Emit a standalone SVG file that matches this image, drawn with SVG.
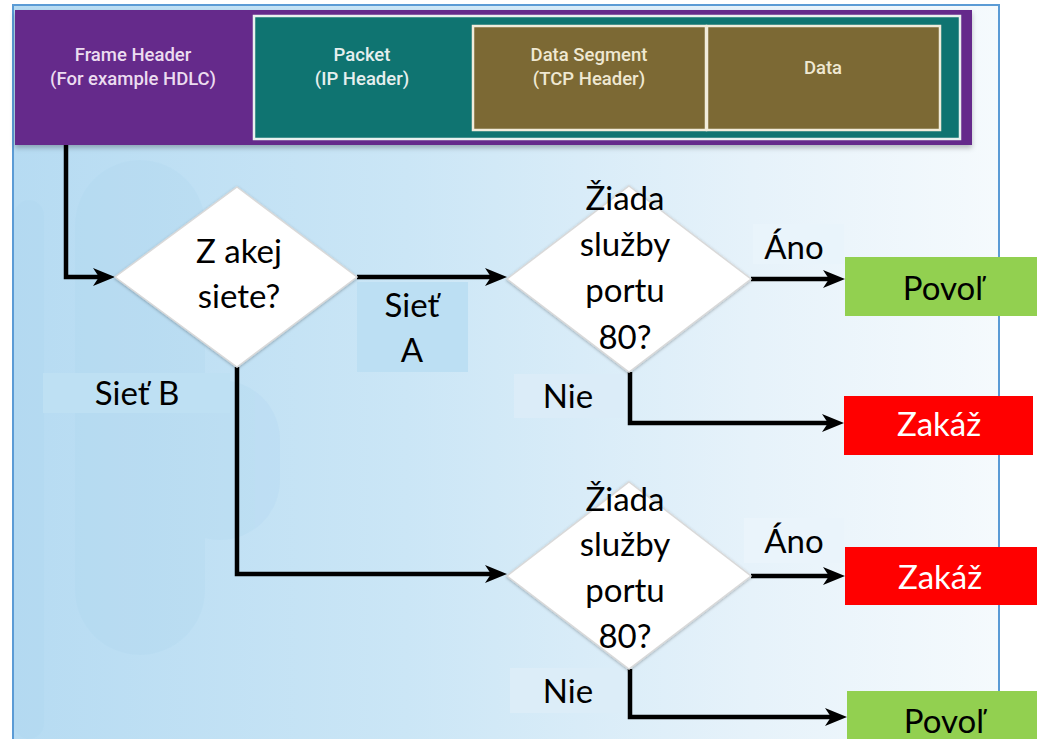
<svg xmlns="http://www.w3.org/2000/svg" width="1037" height="739" viewBox="0 0 1037 739">
  <defs>
    <linearGradient id="panelBg" x1="13" y1="0" x2="999" y2="0" gradientUnits="userSpaceOnUse">
      <stop offset="0" stop-color="#b6dbf2"/>
      <stop offset="0.4" stop-color="#cbe6f6"/>
      <stop offset="0.75" stop-color="#e6f2fa"/>
      <stop offset="1" stop-color="#f5fafd"/>
    </linearGradient>
    <filter id="soft" x="-5%" y="-10%" width="110%" height="130%">
      <feDropShadow dx="0" dy="3" stdDeviation="2.5" flood-color="#000" flood-opacity="0.25"/>
    </filter>
    <filter id="diaShadow" x="-10%" y="-10%" width="120%" height="120%">
      <feDropShadow dx="0" dy="1" stdDeviation="1.5" flood-color="#000" flood-opacity="0.3"/>
    </filter>
    <marker id="arrow" markerUnits="userSpaceOnUse" viewBox="0 0 22 18" markerWidth="22" markerHeight="18" refX="11" refY="9" orient="auto">
      <path d="M0,0 L22,9 L0,18 L6,9 Z" fill="#000"/>
    </marker>
  </defs>
  <style>
    .hdr { font-family: Roboto, "Liberation Sans", sans-serif; font-size: 18.5px; font-weight: 500; text-anchor: middle; }
    .lbl { font-family: Lato, "Liberation Sans", sans-serif; font-size: 33px; text-anchor: middle; fill: #000; }
    .wht { fill: #fff; }
    .conn { fill: none; stroke: #000; stroke-width: 4.5; stroke-linejoin: miter; }
    .dia { fill: #fff; stroke: #d9d9d9; stroke-width: 1.5; filter: url(#diaShadow); }
  </style>

  <!-- page and panel background -->
  <rect x="0" y="0" width="1037" height="739" fill="#fff"/>
  <rect x="13" y="5" width="986" height="734" fill="url(#panelBg)"/>
  <g fill="#a9d4ee" opacity="0.2">
    <rect x="14" y="200" width="30" height="539" rx="15"/>
    <rect x="75" y="160" width="130" height="495" rx="65"/>
    <rect x="160" y="380" width="120" height="160" rx="60"/>
  </g>
  <path d="M13,739 V5 H999 V739" fill="none" stroke="#5b9bd5" stroke-width="2"/>

  <!-- frame structure header -->
  <g id="frame-header">
    <rect x="15" y="10" width="957" height="135" fill="#652a8b" filter="url(#soft)"/>
    <text class="hdr" x="133" y="61" fill="#ecdcf0">Frame Header</text>
    <text class="hdr" x="133" y="85" fill="#ecdcf0">(For example HDLC)</text>
  </g>
  <g id="packet">
    <rect x="254" y="16" width="706" height="123" fill="#0f7471" stroke="#e9f1ef" stroke-width="2.5"/>
    <text class="hdr" x="362" y="61" fill="#e6efee">Packet</text>
    <text class="hdr" x="362" y="85" fill="#e6efee">(IP Header)</text>
  </g>
  <g id="data-segment">
    <rect x="473" y="26" width="233" height="104" fill="#7c6934" stroke="#f1ecdb" stroke-width="2.5"/>
    <text class="hdr" x="589" y="61" fill="#efe8d2">Data Segment</text>
    <text class="hdr" x="589" y="85" fill="#efe8d2">(TCP Header)</text>
  </g>
  <g id="data">
    <rect x="707" y="26" width="233" height="104" fill="#7c6934" stroke="#f1ecdb" stroke-width="2.5"/>
    <text class="hdr" x="823" y="74" fill="#efe8d2">Data</text>
  </g>

  <!-- connectors -->
  <g id="connectors">
    <path class="conn" d="M66,145 V277 H104" marker-end="url(#arrow)"/>
    <path class="conn" d="M357,277 H496" marker-end="url(#arrow)"/>
    <path class="conn" d="M237,367 V574 H496" marker-end="url(#arrow)"/>
    <path class="conn" d="M751,279 H834" marker-end="url(#arrow)"/>
    <path class="conn" d="M630,372 V423 H833" marker-end="url(#arrow)"/>
    <path class="conn" d="M751,576 H834" marker-end="url(#arrow)"/>
    <path class="conn" d="M630,669 V717 H836" marker-end="url(#arrow)"/>
  </g>

  <!-- edge labels -->
  <g id="label-siet-a">
    <rect x="357" y="282" width="111" height="90" fill="#bcdff3"/>
    <text class="lbl" x="412" y="317">Sieť</text>
    <text class="lbl" x="412" y="362">A</text>
  </g>
  <g id="label-siet-b">
    <rect x="43" y="373" width="187" height="40" fill="#bee0f3"/>
    <text class="lbl" x="137" y="405">Sieť B</text>
  </g>
  <g id="label-ano-1">
    <rect x="753" y="224" width="91" height="40" fill="#e9f4fb"/>
    <text class="lbl" x="794" y="259">Áno</text>
  </g>
  <g id="label-nie-1">
    <rect x="514" y="374" width="110" height="44" fill="#dbecf8"/>
    <text class="lbl" x="568" y="408">Nie</text>
  </g>
  <g id="label-ano-2">
    <rect x="744" y="518" width="100" height="45" fill="#eaf4fb"/>
    <text class="lbl" x="794" y="553">Áno</text>
  </g>
  <g id="label-nie-2">
    <rect x="510" y="668" width="113" height="45" fill="#dcedf8"/>
    <text class="lbl" x="568" y="703">Nie</text>
  </g>

  <!-- decisions -->
  <g id="decision-network">
    <polygon class="dia" points="237,187 357,277 237,367 115,277"/>
    <text class="lbl" x="239" y="263">Z akej</text>
    <text class="lbl" x="239" y="308">siete?</text>
  </g>
  <g id="decision-port-a">
    <polygon class="dia" points="629,186 751,279 629,372 507,279"/>
    <text class="lbl" x="625" y="210">Žiada</text>
    <text class="lbl" x="625" y="256">služby</text>
    <text class="lbl" x="625" y="302">portu</text>
    <text class="lbl" x="625" y="349">80?</text>
  </g>
  <g id="decision-port-b">
    <polygon class="dia" points="629,482 751,576 629,669 507,576"/>
    <text class="lbl" x="625" y="511">Žiada</text>
    <text class="lbl" x="625" y="556">služby</text>
    <text class="lbl" x="625" y="602">portu</text>
    <text class="lbl" x="625" y="648">80?</text>
  </g>

  <!-- outcomes -->
  <g id="allow-a">
    <rect x="845" y="257" width="192" height="59" fill="#92d050"/>
    <text class="lbl" x="943" y="300">Povoľ</text>
  </g>
  <g id="deny-a">
    <rect x="844" y="396" width="189" height="59" fill="#ff0000"/>
    <text class="lbl wht" x="939" y="436">Zakáž</text>
  </g>
  <g id="deny-b">
    <rect x="845" y="547" width="192" height="58" fill="#ff0000"/>
    <text class="lbl wht" x="940" y="589">Zakáž</text>
  </g>
  <g id="allow-b">
    <rect x="847" y="691" width="190" height="48" fill="#92d050"/>
    <text class="lbl" x="944" y="733">Povoľ</text>
  </g>
</svg>
